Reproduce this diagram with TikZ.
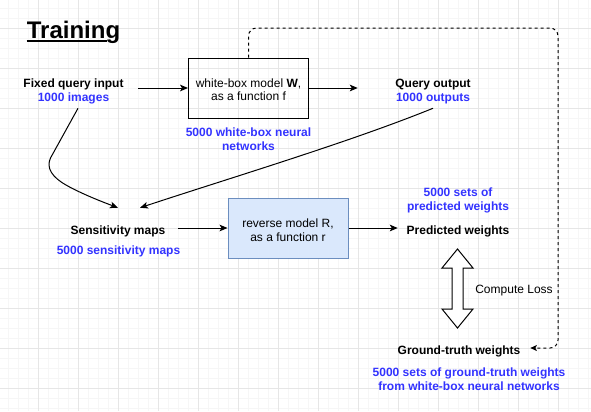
\documentclass[tikz,border=0pt]{standalone}
\usepackage{fontspec}
\setmainfont{Liberation Sans}
\usetikzlibrary{arrows.meta}
\definecolor{txtblue}{RGB}{51,51,255}
\definecolor{gridmaj}{RGB}{230,230,230}
\definecolor{gridmin}{RGB}{246,246,246}
\definecolor{rfill}{RGB}{218,232,252}
\definecolor{rdraw}{RGB}{108,142,191}
\begin{document}
\begin{tikzpicture}[x=0.75pt,y=-0.75pt,
  lbl/.style={inner sep=0pt, anchor=base, font=\fontsize{9pt}{10.5pt}\selectfont},
  bold/.style={inner sep=0pt, anchor=base, font=\fontsize{9pt}{10.5pt}\selectfont\bfseries},
  bluelbl/.style={bold, text=txtblue},
  cell/.style={draw=none, inner sep=0pt, minimum height=30pt},
  boxw/.style={draw, line width=0.75pt, minimum width=90pt, minimum height=45pt, inner sep=0pt},
  boxr/.style={draw=rdraw, fill=rfill, line width=0.75pt, minimum width=90pt, minimum height=45pt, inner sep=0pt},
  arr/.style={-{Stealth[length=6pt,width=5pt,inset=1.5pt]}, line width=0.75pt},
  darr/.style={-{Stealth[length=5pt,width=4.5pt,inset=1.2pt]}, line width=0.75pt, dash pattern=on 2.25pt off 2.25pt, rounded corners=6pt},
  blockarr/.style={draw, fill=white, line width=0.75pt, line join=miter}
]
% background and grid
\fill[white] (0,0) rectangle (591,411);
\useasboundingbox (0,0) rectangle (591,411);
\foreach \k in {0,...,58} \draw[gridmin, line width=0.75pt] (8.3+10*\k,0) -- (8.3+10*\k,411);
\foreach \k in {0,...,40} \draw[gridmin, line width=0.75pt] (0,8.3+10*\k) -- (591,8.3+10*\k);
\foreach \k in {0,...,13} \draw[gridmaj, line width=0.75pt] (38.3+40*\k,0) -- (38.3+40*\k,411);
\foreach \k in {0,...,9} \draw[gridmaj, line width=0.75pt] (0,28.3+40*\k) -- (591,28.3+40*\k);

% title
\node[anchor=base, inner sep=0pt, font=\fontsize{18pt}{20pt}\selectfont\bfseries] (title) at (73.5,38.3) {Training};
\draw[line width=1.5pt] (26.5,41) -- (106.5,41);

% cells (connection geometry)
\node[cell, minimum width=90pt] (fq) at (78,88) {};
\node[cell, minimum width=112.5pt] (qo) at (433,88) {};
\node[cell, minimum width=90pt] (sm) at (118,228) {};
\node[cell, minimum width=90pt] (pw) at (458,228) {};
\node[cell, minimum width=106.5pt] (gt) at (459,348) {};

% boxes
\node[boxw] (wbox) at (248.5,88) {};
\node[boxr] (rbox) at (288,228) {};

% labels
\node[bold] (fqt) at (73.5,87) {Fixed query input};
\node[bluelbl] (fqn) at (73.5,101) {1000 images};
\node[lbl] (w1) at (248.5,87) {white-box model \textbf{W},};
\node[lbl] (w2) at (248.5,100.7) {as a function f};
\node[bold] (qot) at (433,87) {Query output};
\node[bluelbl] (qon) at (433,101) {1000 outputs};
\node[bluelbl] (wn1) at (248.5,136.7) {5000 white-box neural};
\node[bluelbl] (wn2) at (248.5,150) {networks};
\node[bold] (smt) at (118,234) {Sensitivity maps};
\node[bluelbl] (smn) at (118.5,254) {5000 sensitivity maps};
\node[lbl] (r1) at (288,227.3) {reverse model R,};
\node[lbl] (r2) at (288,241) {as a function r};
\node[bluelbl] (pwn1) at (458,196.7) {5000 sets of};
\node[bluelbl] (pwn2) at (458,210) {predicted weights};
\node[bold] (pwt) at (458,234) {Predicted weights};
\node[lbl] (cl) at (514,293.3) {Compute Loss};
\node[bold] (gtt) at (459,354) {Ground-truth weights};
\node[bluelbl] (gtn1) at (469,376.7) {5000 sets of ground-truth weights};
\node[bluelbl] (gtn2) at (469,390.7) {from white-box neural networks};

% connectors
\draw[arr] (fq.east) -- (wbox.west);
\draw[arr] (wbox.east) -- (qo.west);
\draw[arr] (fq.south) -- (50.5,158) .. controls (46,168) and (52,177) .. (66,185) .. controls (80,193) and (100,201) .. (sm.north);
\draw[arr] (qo.south) .. controls (350,142) and (230,178) .. ([xshift=16.5pt]sm.north);
\draw[arr] (sm.east) -- (rbox.west);
\draw[arr] (rbox.east) -- (pw.west);
\coordinate (cTR) at (558,28);
\draw[darr] (wbox.north) |- (cTR) |- (gt.east);

% compute-loss double block arrow
\draw[blockarr] (457.5,249) -- (473,268) -- (463,268) -- (463,309) -- (473,309) -- (457.5,328) -- (442,309) -- (452,309) -- (452,268) -- (442,268) -- cycle;
\end{tikzpicture}
\end{document}
